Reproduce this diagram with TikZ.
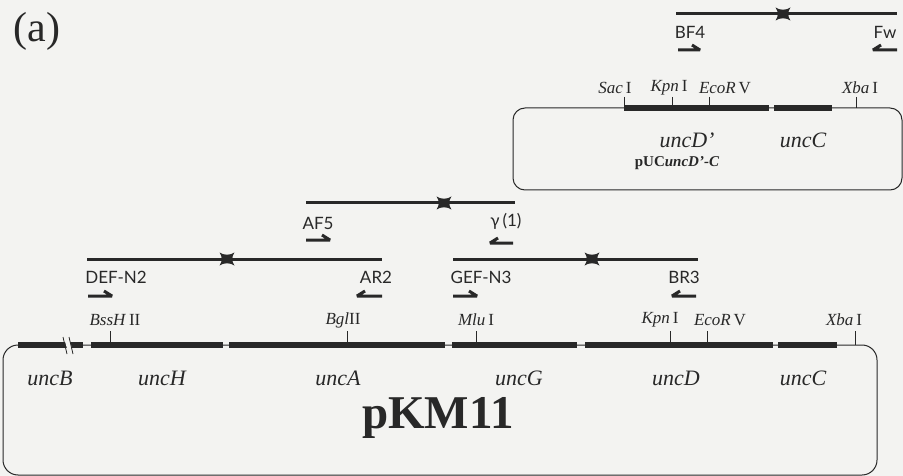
\documentclass[tikz,border=0pt]{standalone}
\usepackage{fontspec}
\setmainfont{Liberation Serif}
\newfontfamily\primerfont{Lato}
\definecolor{ink}{RGB}{40,40,40}
\definecolor{paper}{RGB}{243,243,241}
\newcommand\pcrmark[2]{\fill[ink,shift={(#1,#2)}] (-7.5,-6.5) .. controls (-3,-3.5) and (3,-3.5) .. (7.5,-6.5) .. controls (4.5,-2.5) and (4.5,2.5) .. (7.5,6.5) .. controls (3,3.5) and (-3,3.5) .. (-7.5,6.5) .. controls (-4.5,2.5) and (-4.5,-2.5) .. cycle;}
\tikzset{
  frag/.style={ink,line width=3pt},
  genebar/.style={ink,line width=5.5pt},
  backbone/.style={ink,line width=1pt},
  sitetick/.style={ink,line width=0.9pt},
  primerarrow/.style={ink,line width=3pt,line join=bevel},
  primerlbl/.style={text=ink,inner sep=0pt,font=\primerfont\fontsize{17}{17}\selectfont},
  sitelbl/.style={text=ink,inner sep=0pt,font=\fontsize{17}{17}\selectfont},
  genelbl/.style={text=ink,inner sep=0pt,font=\itshape\fontsize{22}{22}\selectfont},
}
\begin{document}
\begin{tikzpicture}[x=1pt,y=-1pt]
\fill[paper] (0,0) rectangle (903,476);
\useasboundingbox (0,0) rectangle (903,476);

\node[text=ink,inner sep=0pt,font=\fontsize{42}{42}\selectfont] (lab) at (37,31) {(a)};

% ---------- pUCuncD'-C ----------
\coordinate (bfL) at (676,14); \coordinate (bfR) at (897,14);
\draw[frag] (bfL) -- (bfR);
\pcrmark{783}{14}
\node[primerlbl] (bf4) at (690,32) {BF4};
\node[primerlbl] (fw) at (885,32) {Fw};
\coordinate (bfa1) at (678,50); \coordinate (bfa2) at (700,50);
\draw[primerarrow] (bfa1) -- (bfa2) -- ++(-8,-5);
\coordinate (fwa1) at (897,50); \coordinate (fwa2) at (873,50);
\draw[primerarrow] (fwa1) -- (fwa2) -- ++(8,-5);

\draw[backbone,rounded corners=12pt] (513,108) rectangle (902,190);
\coordinate (sacT) at (624,97); \coordinate (sacB) at (624,108);
\coordinate (kpnT) at (672,97); \coordinate (kpnB) at (672,108);
\coordinate (ecoT) at (709,97); \coordinate (ecoB) at (709,108);
\coordinate (xbaT) at (856,97); \coordinate (xbaB) at (856,108);
\draw[sitetick] (sacT) -- (sacB); \draw[sitetick] (kpnT) -- (kpnB);
\draw[sitetick] (ecoT) -- (ecoB); \draw[sitetick] (xbaT) -- (xbaB);
\node[sitelbl] (sac) at (615,88) {\textit{Sac}\,I};
\node[sitelbl] (kpn) at (669,88) {\textit{Kpn}\,I};
\node[sitelbl] (eco) at (725,88) {\textit{EcoR}\,V};
\node[sitelbl] (xba) at (860,88) {\textit{Xba}\,I};
\coordinate (dpL) at (624,108); \coordinate (dpR) at (769,108);
\coordinate (cpL) at (774,108); \coordinate (cpR) at (832,108);
\draw[genebar] (dpL) -- (dpR); \draw[genebar] (cpL) -- (cpR);
\node[genelbl] (uncDp) at (687,140) {uncD'};
\node[genelbl] (uncCp) at (803,140) {uncC};
\node[text=ink,inner sep=0pt,font=\bfseries\fontsize{15}{15}\selectfont] (puc) at (677,163) {pUC\textit{uncD'-C}};

% ---------- PCR fragments ----------
\coordinate (afL) at (306,203); \coordinate (afR) at (515,203);
\draw[frag] (afL) -- (afR);
\pcrmark{444}{203}
\node[primerlbl] (af5) at (318,223) {AF5};
\node[primerlbl] (gam) at (506,221) {γ\,(1)};
\coordinate (afa1) at (306,240); \coordinate (afa2) at (330,240);
\draw[primerarrow] (afa1) -- (afa2) -- ++(-8,-5);
\coordinate (gma1) at (513,243); \coordinate (gma2) at (490,243);
\draw[primerarrow] (gma1) -- (gma2) -- ++(8,-5);

\coordinate (deL) at (87,259); \coordinate (deR) at (382,259);
\draw[frag] (deL) -- (deR);
\pcrmark{227}{259}
\node[primerlbl] (def) at (116,277) {DEF-N2};
\node[primerlbl] (ar2) at (376,277) {AR2};
\coordinate (dea1) at (88,296); \coordinate (dea2) at (112,296);
\draw[primerarrow] (dea1) -- (dea2) -- ++(-8,-5);
\coordinate (ara1) at (382,296); \coordinate (ara2) at (357,296);
\draw[primerarrow] (ara1) -- (ara2) -- ++(8,-5);

\coordinate (geL) at (453,259); \coordinate (geR) at (698,259);
\draw[frag] (geL) -- (geR);
\pcrmark{592}{259}
\node[primerlbl] (gef) at (481,277) {GEF-N3};
\node[primerlbl] (br3) at (684,277) {BR3};
\coordinate (gea1) at (453,296); \coordinate (gea2) at (477,296);
\draw[primerarrow] (gea1) -- (gea2) -- ++(-8,-5);
\coordinate (bra1) at (696,296); \coordinate (bra2) at (672,296);
\draw[primerarrow] (bra1) -- (bra2) -- ++(8,-5);

% ---------- pKM11 ----------
\draw[backbone,rounded corners=15pt] (3,345) rectangle (877,475);
\foreach \nm/\xx in {bss/110,bgl/347,mlu/476,kpnb/670,ecob/707,xbab/855}{
  \coordinate (\nm T) at (\xx,331); \coordinate (\nm B) at (\xx,345);
  \draw[sitetick] (\nm T) -- (\nm B);
}
\node[sitelbl] (bssl) at (115,320) {\textit{BssH}\,II};
\node[sitelbl] (bgll) at (343,320) {\textit{Bgl}II};
\node[sitelbl] (mlul) at (476,320) {\textit{Mlu}\,I};
\node[sitelbl] (kpnl) at (660,320) {\textit{Kpn}\,I};
\node[sitelbl] (ecol) at (720,320) {\textit{EcoR}\,V};
\node[sitelbl] (xbal) at (844,320) {\textit{Xba}\,I};

\foreach \nm/\a/\b in {ub/18/83,uh/91/223,ua/229/445,ug/452/577,ud/585/773,uc/778/837}{
  \coordinate (\nm L) at (\a,345); \coordinate (\nm R) at (\b,345);
  \draw[genebar] (\nm L) -- (\nm R);
}
% break symbol on uncB
\fill[paper] (64,338) -- (69,338) -- (73,352) -- (68,352) -- cycle;
\draw[ink,line width=0.8pt] (63,337) -- (67,354);
\draw[ink,line width=0.8pt] (69,337) -- (73,354);

\node[genelbl] (uncB) at (50,378) {uncB};
\node[genelbl] (uncH) at (162,378) {uncH};
\node[genelbl] (uncA) at (338,378) {uncA};
\node[genelbl] (uncG) at (519,378) {uncG};
\node[genelbl] (uncD) at (676,378) {uncD};
\node[genelbl] (uncC) at (803,378) {uncC};
\node[text=ink,inner sep=0pt,font=\bfseries\fontsize{47}{47}\selectfont] (pkm) at (438,418) {pKM11};
\end{tikzpicture}
\end{document}
